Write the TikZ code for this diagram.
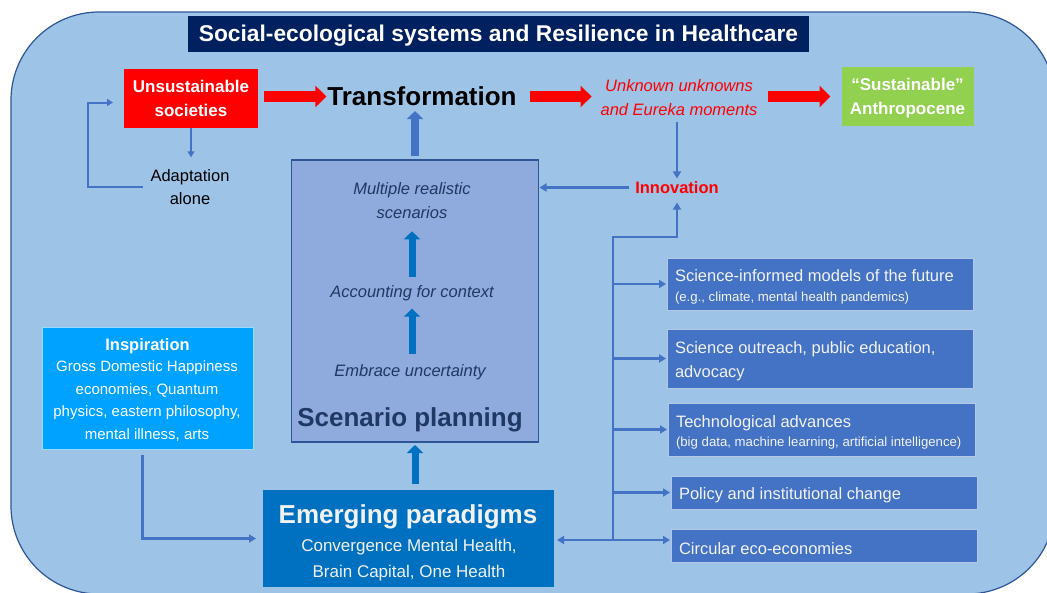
\documentclass[tikz,border=0pt]{standalone}
\usepackage{fontspec}
\setmainfont{Liberation Sans}
\usetikzlibrary{arrows.meta,calc}
\definecolor{bgblue}{HTML}{9DC3E6}
\definecolor{edgeblue}{HTML}{2F5597}
\definecolor{navy}{HTML}{002060}
\definecolor{redx}{HTML}{FF0000}
\definecolor{greenx}{HTML}{92D050}
\definecolor{scenfill}{HTML}{8FAADC}
\definecolor{scentext}{HTML}{1F3864}
\definecolor{emergfill}{HTML}{0070C0}
\definecolor{inspfill}{HTML}{00A2FF}
\definecolor{boxblue}{HTML}{4472C4}
\definecolor{boxedge}{HTML}{B4C7E7}
\definecolor{offwhite}{HTML}{F2F2F2}
\newcommand{\fsz}[2]{\fontsize{#1}{#2}\selectfont}
\newcommand{\dnbox}[2]{\raisebox{-3pt}[\height][\depth]{\parbox{#1}{\raggedright #2}}}
\begin{document}
\begin{tikzpicture}[x=1pt,y=-1pt,
  box/.style={rectangle, inner sep=0pt, outer sep=0pt, align=center},
  lbl/.style={inner sep=0pt, outer sep=0pt, align=center},
  rbox/.style={rectangle, fill=boxblue, draw=boxedge, line width=0.9pt, inner sep=0pt, outer sep=0pt, text=offwhite},
  redarrow/.style={line width=11pt, redx, -{Triangle[length=11pt,width=21pt]}},
  blockA/.style={line width=8pt, boxblue, -{Triangle[length=8pt,width=16pt]}},
  blockB/.style={line width=7pt, emergfill, -{Triangle[length=8pt,width=16pt]}},
  conn/.style={draw=boxblue, line width=2.5pt, -{Triangle[length=7pt,width=8pt]}},
  connthin/.style={draw=boxblue, line width=2pt, -{Triangle[length=6pt,width=7pt]}}
]
\useasboundingbox (0,0) rectangle (1047,592);
\fill[white] (0,0) rectangle (1047,592);
\path[fill=bgblue, draw=edgeblue, line width=1.2pt, rounded corners=88pt] (11,12) rectangle (1055,594);

% title
\node[box, fill=navy, minimum width=621pt, minimum height=36pt, text=white, text depth=1pt, font=\fsz{22.8}{26}\bfseries] (title) at (498.5,34) {Social-ecological systems and Resilience in Healthcare};

% top row
\node[box, fill=redx, minimum width=134pt, minimum height=59pt, text=white, font=\fsz{17}{24}\bfseries] (unsust) at (191,98.5) {Unsustainable\\societies};
\node[lbl, font=\fsz{26}{30}\bfseries] (trans) at (422,96.5) {Transformation};
\node[lbl, text=redx, font=\fsz{16.5}{23.5}\itshape] (unk) at (679,97.5) {Unknown unknowns\\and Eureka moments};
\node[box, fill=greenx, minimum width=132pt, minimum height=59pt, text=white, text depth=0pt, font=\fsz{17}{24.5}\bfseries] (sust) at (907.5,96.5) {“Sustainable”\\Anthropocene};
\node[lbl, font=\fsz{16.5}{22.3}] (adapt) at (190,187) {Adaptation\\alone};

\draw[redarrow, shorten <=6pt, shorten >=1pt] (unsust.east |- trans.west) -- (trans.west);
\draw[redarrow, shorten <=13pt, shorten >=9pt] (trans.east) -- (trans.east -| unk.west);
\draw[redarrow, shorten <=11pt, shorten >=11pt] (unk.east |- sust.west) -- (sust.west);

\draw[connthin, shorten >=12.5pt] (unsust.south) -- (unsust.south |- adapt.north);
\draw[connthin] ([xshift=-8pt]adapt.west) -- ++(-55pt,0) |- ([xshift=-11pt,yshift=-4pt]unsust.west);

% scenario planning
\node[box, fill=scenfill, draw=edgeblue, line width=1.5pt, minimum width=247pt, minimum height=282pt] (scen) at (415,301) {};
\node[lbl, text=scentext, font=\fsz{16.5}{23.5}\itshape] (msc) at (412,200.5) {Multiple realistic\\scenarios};
\node[lbl, text=scentext, font=\fsz{16.5}{20}\itshape] (acc) at (412,293.5) {Accounting for context};
\node[lbl, text=scentext, font=\fsz{16.5}{20}\itshape] (emb) at (410,372.5) {Embrace uncertainty};
\node[lbl, text=scentext, font=\fsz{26}{30}\bfseries] (sp) at (410,420) {Scenario planning};
\draw[blockB, shorten <=9pt, shorten >=13pt] (acc.north) -- (msc.south);
\draw[blockB, shorten <=11pt, shorten >=7.5pt] (acc.south |- emb.north) -- (acc.south);
\draw[blockA, shorten <=4pt, shorten >=5pt] (scen.north) -- (scen.north |- trans.south);

% innovation
\node[lbl, text=redx, font=\fsz{16.5}{20}\bfseries] (innov) at (677,187.5) {Innovation};
\draw[conn, shorten <=7pt, shorten >=3pt] (innov.north |- unk.south) -- (innov.north);
\draw[conn, shorten <=6pt, shorten >=1pt] (innov.west) -- (innov.west -| scen.east);

% right boxes
\node[rbox, minimum width=306pt, minimum height=52pt, font=\fsz{16.5}{19.5}] (b1) at (820,284) {\dnbox{290pt}{Science-informed models of the future\\{\fsz{13.2}{15}(e.g., climate, mental health pandemics)}}};
\node[rbox, minimum width=306pt, minimum height=59pt, font=\fsz{16.5}{24}] (b2) at (820,358.5) {\dnbox{290pt}{Science outreach, public education,\\advocacy}};
\node[rbox, minimum width=307pt, minimum height=53pt, font=\fsz{16.5}{19.5}] (b3) at (821.5,429.5) {\dnbox{291pt}{Technological advances\\{\fsz{13.2}{15}(big data, machine learning, artificial intelligence)}}};
\node[rbox, minimum width=306pt, minimum height=33pt, font=\fsz{16.5}{20}] (b4) at (824,492.5) {\dnbox{290pt}{Policy and institutional change}};
\node[rbox, minimum width=306pt, minimum height=33pt, font=\fsz{16.5}{20}] (b5) at (824,545.5) {\dnbox{290pt}{Circular eco-economies}};

% emerging paradigms
\node[box, fill=emergfill, minimum width=291pt, minimum height=97pt] (emerg) at (408.5,538.5) {};
\node[lbl, text=offwhite, font=\fsz{26}{30}\bfseries] (emt) at (408,516.4) {Emerging paradigms};
\node[lbl, text=offwhite, font=\fsz{17}{26}] (ems) at (409,560.5) {Convergence Mental Health,\\Brain Capital, One Health};
\draw[blockB, shorten <=6pt, shorten >=3pt] (scen.south |- emerg.north) -- (scen.south);

% inspiration
\node[box, fill=inspfill, draw=white!60!inspfill, line width=0.8pt, minimum width=211pt, minimum height=122pt] (insp) at (147.5,388) {};
\node[lbl, text=white, font=\fsz{16.5}{20}\bfseries] (inst) at (147.5,346.5) {Inspiration};
\node[lbl, text=white, font=\fsz{15}{22.4}] (insb) at (147,401) {Gross Domestic Happiness\\economies, Quantum\\physics, eastern philosophy,\\mental illness, arts};
\draw[conn, shorten >=7pt] ([xshift=-5pt,yshift=-6pt]insp.south) |- (emerg.west);

% innovation trunk
\coordinate (tb) at (613,540);
\coordinate (tt) at (613,237);
\draw[conn, shorten >=9pt] (tb) -- (tt) -| (innov.south);
\draw[conn, shorten >=1pt] (tb |- b1.west) -- (b1.west);
\draw[conn, shorten >=1pt] (tb |- b2.west) -- (b2.west);
\draw[conn, shorten >=1pt] (tb |- b3.west) -- (b3.west);
\draw[conn, shorten >=1pt] (tb |- b4.west) -- (b4.west);
\draw[conn, shorten >=1pt] (tb) -- (tb -| b5.west);
\draw[conn, shorten >=3pt] (tb) -- (tb -| emerg.east);
\end{tikzpicture}
\end{document}
